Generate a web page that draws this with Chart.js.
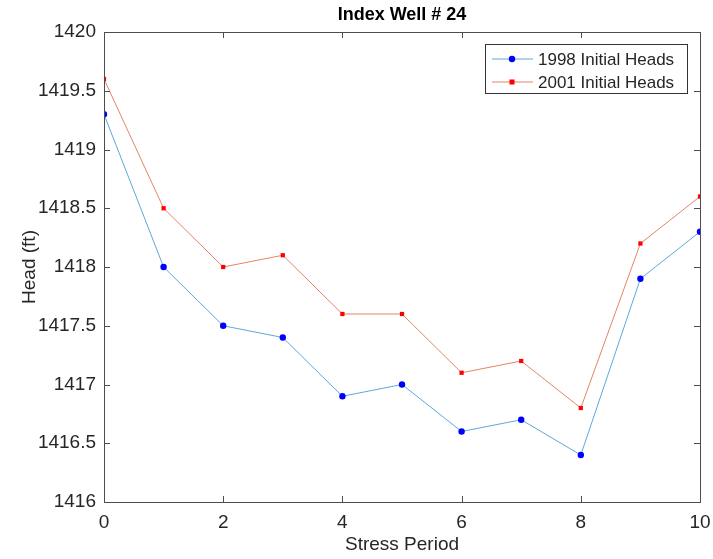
<!DOCTYPE html>
<html>
<head>
<meta charset="utf-8">
<script src="https://cdn.jsdelivr.net/npm/chart.js@4"></script>
<style>
  html, body { margin: 0; padding: 0; background: #fff; }
  #wrap { width: 713px; height: 559px; }
</style>
</head>
<body>
<div id="wrap"><canvas id="myChart"></canvas></div>
<script>
const periods = [0, 1, 2, 3, 4, 5, 6, 7, 8, 9, 10];
const heads1998 = [1419.3, 1418.0, 1417.5, 1417.4, 1416.9, 1417.0, 1416.6, 1416.7, 1416.4, 1417.9, 1418.3];
const heads2001 = [1419.6, 1418.5, 1418.0, 1418.1, 1417.6, 1417.6, 1417.1, 1417.2, 1416.8, 1418.2, 1418.6];
const xTicks = [0, 2, 4, 6, 8, 10];
const yTicks = [1416, 1416.5, 1417, 1417.5, 1418, 1418.5, 1419, 1419.5, 1420];

const FONT = 'Liberation Sans, Arial, Helvetica, sans-serif';
const AXIS = '#4d4d4d';
const TEXT = '#262626';

// frame, inward ticks, titles, legend box
const matlabLook = {
  id: 'matlabLook',
  afterDraw(chart) {
    const c = chart.ctx;
    const a = chart.chartArea;
    const xs = chart.scales.x, ys = chart.scales.y;
    c.save();
    c.strokeStyle = AXIS;
    c.lineWidth = 1;
    c.strokeRect(a.left + 0.5, a.top + 0.5, a.right - a.left, a.bottom - a.top);
    c.beginPath();
    xTicks.forEach(v => {
      const px = Math.round(xs.getPixelForValue(v)) + 0.5;
      c.moveTo(px, a.bottom); c.lineTo(px, a.bottom - 6);
      c.moveTo(px, a.top); c.lineTo(px, a.top + 6);
    });
    yTicks.forEach(v => {
      const py = Math.round(ys.getPixelForValue(v)) + 0.5;
      c.moveTo(a.left, py); c.lineTo(a.left + 6, py);
      c.moveTo(a.right, py); c.lineTo(a.right - 6, py);
    });
    c.stroke();

    // title
    c.fillStyle = '#000';
    c.textAlign = 'center';
    c.textBaseline = 'middle';
    c.font = 'bold 18px ' + FONT;
    c.fillText('Index Well # 24', (a.left + a.right) / 2, 15);

    // axis titles
    c.fillStyle = TEXT;
    c.font = '19px ' + FONT;
    c.fillText('Stress Period', (a.left + a.right) / 2, 545);
    c.save();
    c.translate(30, (a.top + a.bottom) / 2);
    c.rotate(-Math.PI / 2);
    c.fillText('Head (ft)', 0, 0);
    c.restore();

    // legend
    const lx = 485, ly = 44, lw = 202, lh = 49;
    c.fillStyle = '#fff';
    c.fillRect(lx, ly, lw, lh);
    c.strokeStyle = '#333';
    c.strokeRect(lx + 0.5, ly + 0.5, lw, lh);
    chart.data.datasets.forEach((ds, i) => {
      const y = 59 + i * 23;
      c.strokeStyle = ds.borderColor;
      c.lineWidth = 1;
      c.beginPath();
      c.moveTo(492, y); c.lineTo(533, y);
      c.stroke();
      c.fillStyle = ds.pointBackgroundColor;
      if (ds.pointStyle === 'rect') {
        c.fillRect(512 - 2.5, y - 2.5, 5, 5);
      } else {
        c.beginPath(); c.arc(512, y, 3.2, 0, Math.PI * 2); c.fill();
      }
      c.fillStyle = TEXT;
      c.textAlign = 'left';
      c.font = '17px ' + FONT;
      c.fillText(ds.label, 538, y + 1);
    });
    c.restore();
  }
};

new Chart(document.getElementById('myChart'), {
  type: 'line',
  data: {
    datasets: [{
      label: '1998 Initial Heads',
      data: periods.map((p, i) => ({ x: p, y: heads1998[i] })),
      borderColor: '#5aaadb',
      borderWidth: 1,
      pointStyle: 'circle',
      pointRadius: 3.2,
      pointBackgroundColor: '#0000ff',
      pointBorderWidth: 0,
      tension: 0
    }, {
      label: '2001 Initial Heads',
      data: periods.map((p, i) => ({ x: p, y: heads2001[i] })),
      borderColor: '#e38468',
      borderWidth: 1,
      pointStyle: 'rect',
      pointRadius: 3,
      pointBackgroundColor: '#ff0000',
      pointBorderWidth: 0,
      tension: 0
    }]
  },
  options: {
    responsive: true,
    maintainAspectRatio: false,
    animation: false,
    layout: { padding: { top: 32, right: 13, left: 0, bottom: 0 } },
    plugins: {
      legend: { display: false },
      title: { display: false },
      tooltip: { enabled: false }
    },
    scales: {
      x: {
        type: 'linear',
        min: 0, max: 10,
        afterBuildTicks: s => { s.ticks = xTicks.map(v => ({ value: v })); },
        afterFit: s => { s.height = 57; },
        grid: { display: false },
        border: { display: false },
        ticks: { color: TEXT, font: { family: FONT, size: 19 }, padding: 1, callback: v => String(v) }
      },
      y: {
        min: 1416, max: 1420,
        afterBuildTicks: s => { s.ticks = yTicks.map(v => ({ value: v })); },
        afterFit: s => { s.width = 104; },
        grid: { display: false },
        border: { display: false },
        ticks: { color: TEXT, font: { family: FONT, size: 19 }, padding: 0, callback: v => String(v) }
      }
    }
  },
  plugins: [matlabLook]
});
</script>
</body>
</html>
